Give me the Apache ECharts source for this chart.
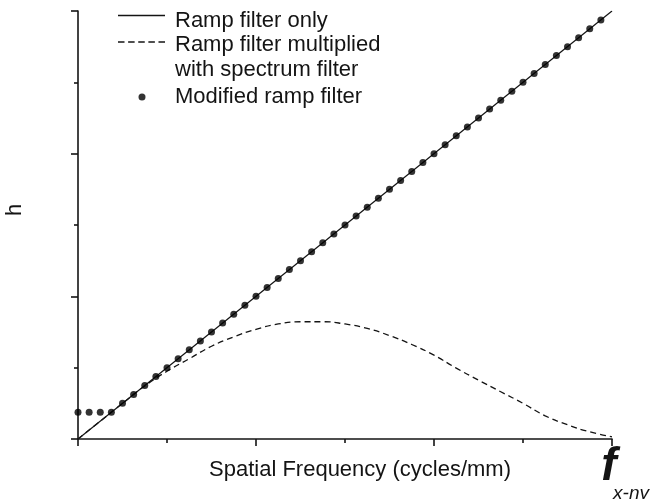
<!DOCTYPE html>
<html>
<head>
<meta charset="utf-8">
<script src="https://cdn.jsdelivr.net/npm/echarts@6/dist/echarts.min.js"></script>
<style>
  html, body { margin: 0; padding: 0; background: #fff; }
  #chart { width: 650px; height: 499px; }
</style>
</head>
<body>
<div id="chart"></div>
<script>
// frequency axis runs 0..48 (48 = f x-ny), h uses the same units
const rampFreq = [0, 48]
const rampH = [0, 48]

const spectFreq = [0, 2, 4, 6, 8, 10, 12, 14, 16, 18, 20, 22, 24, 26, 28, 30, 32, 34, 36, 38, 40, 42, 44, 46, 48]
const spectH = [0, 2, 4, 5.95, 7.6, 9.0, 10.4, 11.45, 12.3, 12.9, 13.15, 13.15, 12.9, 12.4, 11.6, 10.6, 9.4, 7.95, 6.6, 5.3, 4.0, 2.6, 1.6, 0.8, 0.25]

const dotFreq = [0, 1, 2, 3, 4, 5, 6, 7, 8, 9, 10, 11, 12, 13, 14, 15, 16, 17, 18, 19, 20, 21, 22, 23,
  24, 25, 26, 27, 28, 29, 30, 31, 32, 33, 34, 35, 36, 37, 38, 39, 40, 41, 42, 43, 44, 45, 46, 47]
const dotH = [3, 3, 3, 3, 4, 5, 6, 7, 8, 9, 10, 11, 12, 13, 14, 15, 16, 17, 18, 19, 20, 21, 22, 23,
  24, 25, 26, 27, 28, 29, 30, 31, 32, 33, 34, 35, 36, 37, 38, 39, 40, 41, 42, 43, 44, 45, 46, 47]

const NAME_RAMP = 'Ramp filter only'
const NAME_SPECT = 'Ramp filter multiplied with spectrum filter'
const NAME_MOD = 'Modified ramp filter'

const INK = '#141414'
const FONT = '"Liberation Sans", Arial, sans-serif'
const FS = 22

const ICON_SOLID = 'path://M0,0H47V1H0Z'
const ICON_DASH = 'path://M0,0h6.5v1h-6.5z M10.1,0h6.5v1h-6.5z M20.2,0h6.5v1h-6.5z M30.3,0h6.5v1h-6.5z M40.4,0h6.5v1h-6.5z'

const pairs = (xs, ys) => xs.map((x, i) => [x, ys[i]])

const axisCommon = {
  type: 'value',
  min: 0,
  max: 48,
  interval: 16,
  axisLine: { lineStyle: { color: INK, width: 1.6 } },
  axisTick: { length: 7, lineStyle: { color: INK, width: 1.6 } },
  minorTick: { show: true, splitNumber: 2, length: 4, lineStyle: { color: INK, width: 1.6 } },
  splitLine: { show: false },
  minorSplitLine: { show: false },
}

const legendText = {
  fontFamily: FONT,
  fontSize: FS,
  color: INK,
  rich: {
    e: { fontSize: 6, lineHeight: 11 },
    ee: { fontSize: 6, lineHeight: 30 },
    a: { fontFamily: FONT, fontSize: FS, color: INK, lineHeight: 25 },
  },
}

const legendCommon = {
  orient: 'vertical',
  left: 118,
  padding: 0,
  itemWidth: 47,
  itemHeight: 1.3,
  symbolKeepAspect: false,
  selectedMode: false,
  textStyle: Object.assign({}, legendText, { padding: [0, 0, 0, 5] }),
}

const option = {
  animation: false,
  backgroundColor: '#fff',
  grid: { left: 78, right: 38, top: 11, bottom: 60, outerBoundsMode: 'none' },
  legend: [
    Object.assign({}, legendCommon, {
      top: 0,
      data: [{ name: NAME_RAMP, icon: ICON_SOLID }],
      formatter: () => '{e| }\n{a|Ramp filter only}',
    }),
    Object.assign({}, legendCommon, {
      top: 14,
      data: [{ name: NAME_SPECT, icon: ICON_DASH }],
      formatter: () => '{ee| }\n{a|Ramp filter multiplied}\n{a|with spectrum filter}',
    }),
    Object.assign({}, legendCommon, {
      top: 86,
      left: 138.5,
      itemWidth: 7,
      itemHeight: 7,
      data: [{ name: NAME_MOD, icon: 'circle' }],
      formatter: () => '{a|Modified ramp filter}',
      textStyle: Object.assign({}, legendText, { padding: [0, 0, 0, 24.5] }),
    }),
  ],
  xAxis: Object.assign({}, axisCommon, {
    name: 'Spatial Frequency (cycles/mm)',
    nameLocation: 'middle',
    nameGap: 20,
    nameMoveOverlap: false,
    nameTextStyle: { fontFamily: FONT, fontSize: FS, color: INK, padding: [0, 0, 0, 30] },
    axisLabel: {
      margin: 10,
      formatter: v => (v === 48 ? '{f|f}\n{s|x-ny}' : ''),
      rich: {
        f: { fontFamily: FONT, fontSize: 46, fontStyle: 'italic', fontWeight: 'bold', color: INK, lineHeight: 36, padding: [0, 6, 0, 0] },
        s: { fontFamily: FONT, fontSize: 19, fontStyle: 'italic', color: INK, lineHeight: 18, padding: [0, 0, 0, 38] },
      },
    },
  }),
  yAxis: Object.assign({}, axisCommon, {
    name: 'h',
    nameLocation: 'middle',
    nameGap: 52,
    nameMoveOverlap: false,
    nameTextStyle: { fontFamily: FONT, fontSize: FS, color: INK, padding: [0, 0, 0, 30] },
    axisLabel: { show: false },
  }),
  series: [
    {
      name: NAME_RAMP,
      type: 'line',
      data: pairs(rampFreq, rampH),
      symbol: 'none',
      lineStyle: { color: INK, width: 1.2 },
      itemStyle: { color: INK },
      z: 2,
    },
    {
      name: NAME_SPECT,
      type: 'line',
      data: pairs(spectFreq, spectH),
      smooth: 0.5,
      symbol: 'none',
      lineStyle: { color: INK, width: 1.3, type: [6, 4] },
      itemStyle: { color: INK },
      z: 2,
    },
    {
      name: NAME_MOD,
      type: 'scatter',
      data: pairs(dotFreq, dotH),
      symbol: 'circle',
      symbolSize: 7,
      itemStyle: { color: '#000' },
      z: 3,
    },
  ],
}

const chart = echarts.init(document.getElementById('chart'), null, { renderer: 'canvas' })
chart.setOption(option)
</script>
</body>
</html>
